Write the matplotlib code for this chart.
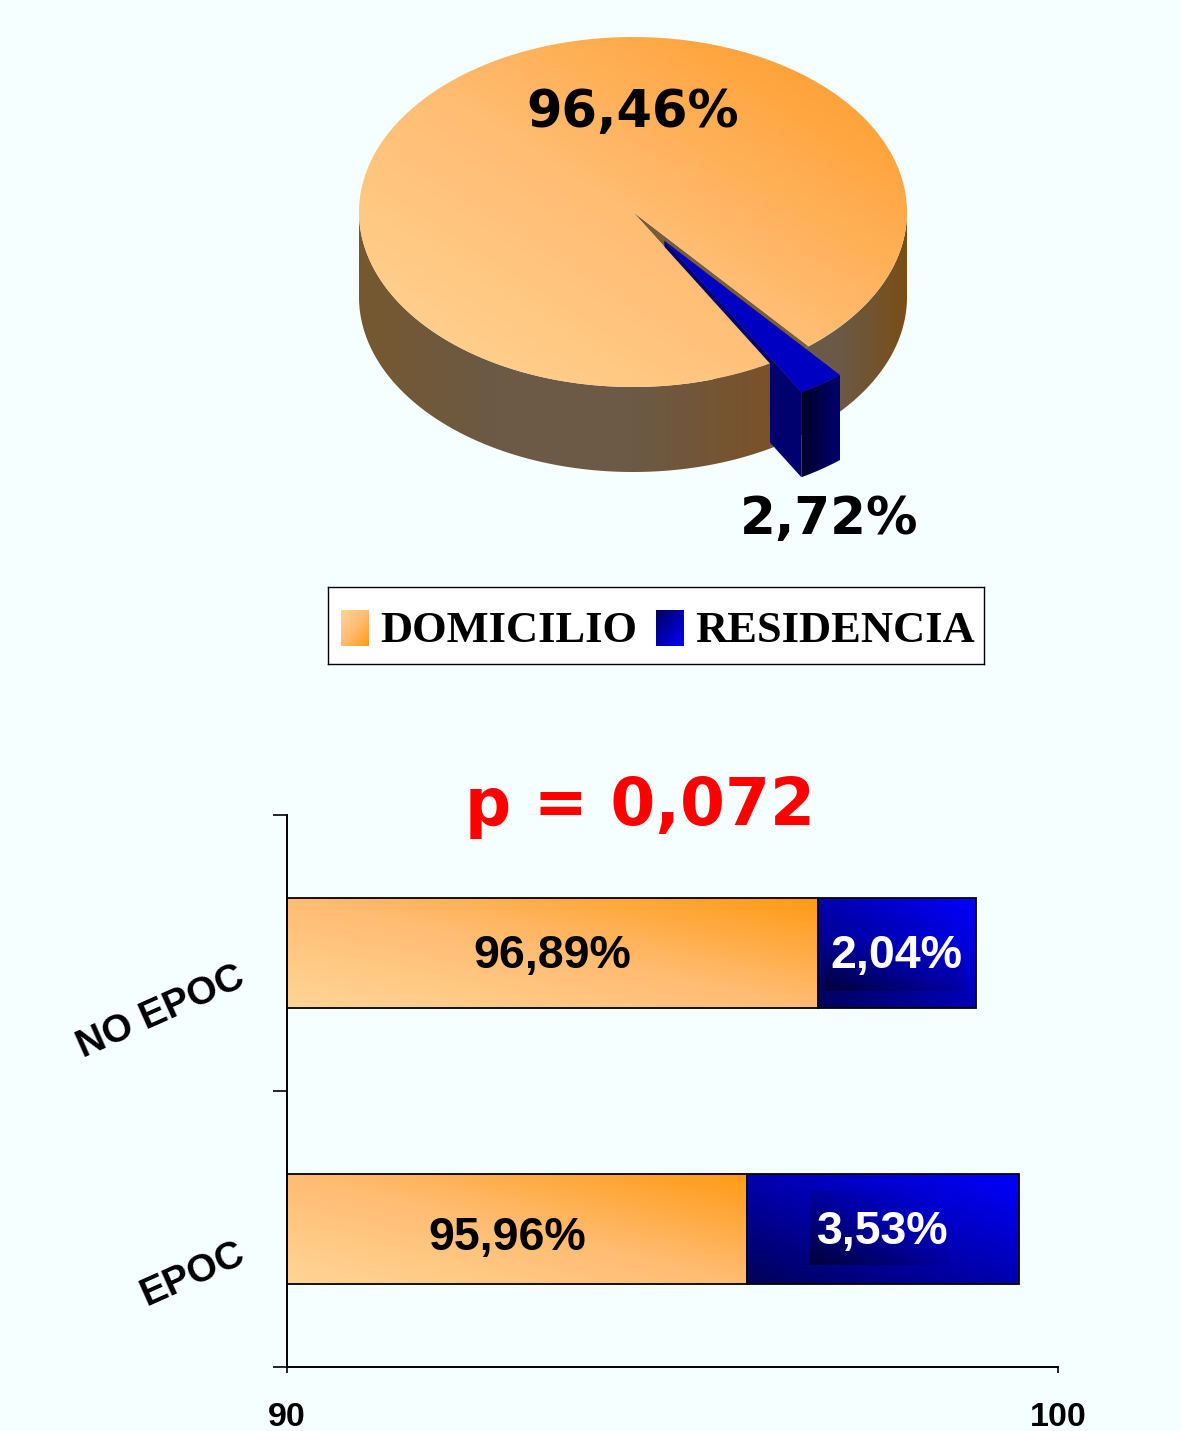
import numpy as np
import matplotlib
matplotlib.use('Agg')
import matplotlib.pyplot as plt
from matplotlib.colors import LinearSegmentedColormap
from matplotlib.patches import Polygon

# pie values
pie_names = ['DOMICILIO', 'RESIDENCIA']
pie_values = [96.46, 2.72]

# bar values
categories = ['EPOC', 'NO EPOC']
domicilio = [95.96, 96.89]
residencia = [3.53, 2.04]
x_ticks = [90, 100]

W, H = 1181, 1431
BG = '#F6FFFF'
SANS = 'Liberation Sans'

orange = LinearSegmentedColormap.from_list('orange', ['#FFD596', '#FFBC72', '#FF9A14'])
orange_pie = LinearSegmentedColormap.from_list('orange_pie', ['#FFD596', '#FFBC72', '#FF9822'])
blue = LinearSegmentedColormap.from_list('blue', ['#000058', '#0000B0', '#0000FF'])
blue_box = LinearSegmentedColormap.from_list('blue_box', ['#000038', '#0000A0', '#0000E8'])
wall_left = LinearSegmentedColormap.from_list('wall_left', ['#75582F', '#6C5A46', '#6C5A46', '#7A5228'])
wall_right = LinearSegmentedColormap.from_list('wall_right', ['#6A5A48', '#6A5A48', '#7A4E16'])
blue_side = LinearSegmentedColormap.from_list('blue_side', ['#000028', '#000070'])


def px_axes(left, top, right, bottom):
    ax = fig.add_axes([left / W, 1 - bottom / H, (right - left) / W, (bottom - top) / H])
    ax.patch.set_alpha(0)
    return ax


def gradient(ax, verts, cmap, mode='diag', zorder=1):
    """Fill a polygon with a gradient image clipped to it."""
    verts = np.asarray(verts)
    x0, y0 = verts.min(axis=0)
    x1, y1 = verts.max(axis=0)
    u, v = np.meshgrid(np.linspace(0, 1, 300), np.linspace(0, 1, 300))
    t = u if mode == 'x' else (u + v) / 2
    im = ax.imshow(t, cmap=cmap, vmin=0, vmax=1, origin='lower', aspect='auto',
                   extent=(x0, x1, y0, y1), zorder=zorder, interpolation='bilinear')
    poly = Polygon(verts, closed=True, transform=ax.transData)
    im.set_clip_path(poly)
    return im


def arc(a0, a1, cx=0.0, cy=0.0, dy=0.0):
    th = np.radians(np.linspace(a0, a1, 200))
    return np.column_stack([cx + np.cos(th), cy + np.sin(th) + dy])


def wall(a0, a1, depth, cx=0.0, cy=0.0):
    return np.vstack([arc(a0, a1, cx, cy), arc(a0, a1, cx, cy, -depth)[::-1]])


def pct(v):
    return f'{v:.2f}%'.replace('.', ',')


fig = plt.figure(figsize=(W / 100, H / 100), dpi=100, facecolor=BG)

# ---------- pie ----------
cx_px, cy_px, rx, ry = 633, 212, 274, 175
depth = 85 / ry
ax = px_axes(300, 0, 960, 560)
total = sum(pie_values)
sweep_dom = pie_values[0] / total * 360
sweep_res = pie_values[1] / total * 360
a_res0 = 300.0
a_res1 = a_res0 + sweep_res
a_dom1 = a_res0
a_dom0 = a_dom1 - sweep_dom
mid = np.radians((a_res0 + a_res1) / 2)
ex, ey = 0.2 * np.cos(mid), 0.2 * np.sin(mid)

# back part of the side wall and the slit left by the blue slice
gradient(ax, wall(a_res0, 360, depth), wall_right, 'x', zorder=1)
slit = np.vstack([[0, 0], arc(a_res0, a_res1)])
ax.add_patch(Polygon(slit, closed=True, fc='#7A5C38', ec='none', zorder=2))

# blue slice side facing the slit
p_tip = np.array([ex, ey])
p_rim = np.array([ex + np.cos(np.radians(a_res0)), ey + np.sin(np.radians(a_res0))])
face = [p_tip, p_rim, p_rim - [0, depth], p_tip - [0, depth]]
ax.add_patch(Polygon(face, closed=True, fc='#00006E', ec='none', zorder=3))

# front wall and top of the orange slice go over it
gradient(ax, wall(180, a_res0, depth), wall_left, 'x', zorder=4)
top = np.vstack([[0, 0], arc(a_dom0, a_dom1)])
gradient(ax, top, orange_pie, 'diag', zorder=5)

# blue slice top and outer face
res_top = np.vstack([p_tip, arc(a_res0, a_res1, ex, ey)])
ax.add_patch(Polygon(res_top, closed=True, fc='#0000C2', ec='none', zorder=6))
gradient(ax, wall(a_res0, a_res1, depth, ex, ey), blue_side, 'x', zorder=6)

ax.set_xlim((300 - cx_px) / rx, (960 - cx_px) / rx)
ax.set_ylim((cy_px - 560) / ry, cy_px / ry)
ax.axis('off')

fig.text(632.5 / W, 1 - 113 / H, pct(pie_values[0]), fontsize=36.8, fontweight='bold',
         ha='center', va='center', color='black')
fig.text(829.5 / W, 1 - 520 / H, pct(pie_values[1]), fontsize=37, fontweight='bold',
         ha='center', va='center', color='black')

# ---------- legend ----------
lg = px_axes(328, 587, 983.5, 664)
lg.patch.set_alpha(1)
lg.set_facecolor('white')
lg.set_xticks([])
lg.set_yticks([])
for s in lg.spines.values():
    s.set_linewidth(1.0)
gradient(lg, [(341, 610), (369, 610), (369, 646), (341, 646)], orange)
gradient(lg, [(656, 610), (684, 610), (684, 646), (656, 646)], blue)
lg.set_xlim(328, 983.5)
lg.set_ylim(664, 587)
lg.text(380, 631, pie_names[0], fontsize=32, fontweight='bold', family='Liberation Serif',
        ha='left', va='center', color='black')
lg.text(695, 631, pie_names[1], fontsize=32, fontweight='bold', family='Liberation Serif',
        ha='left', va='center', color='black')

# ---------- bars ----------
fig.text(640 / W, 1 - 807 / H, 'p = 0,072', fontsize=46.5, fontweight='bold',
         ha='center', va='center', color='#FF0000')

bx = px_axes(287, 815, 1058, 1367)
y_pos = np.arange(len(categories))
dom = np.array(domicilio)
res = np.array(residencia)
bar_h = 0.402
bars_dom = bx.barh(y_pos, dom, height=bar_h, fc='none', ec='black', lw=1.3, zorder=3)
bars_res = bx.barh(y_pos, res, left=dom, height=bar_h, fc='none', ec='black', lw=1.3, zorder=3)
for i, y in enumerate(y_pos):
    y0, y1 = y - bar_h / 2, y + bar_h / 2
    corners = [(90, y0), (dom[i], y0), (dom[i], y1), (90, y1)]
    gradient(bx, corners, orange, zorder=2)
    corners = [(dom[i], y0), (dom[i] + res[i], y0), (dom[i] + res[i], y1), (dom[i], y1)]
    gradient(bx, corners, blue, zorder=2)

# darker box that sits behind the white labels
box_spans = [(96.78, 98.6, -0.132, 0.139), (96.95, 98.76, 0.864, 1.08)]
for xa, xb, ya, yb in box_spans:
    gradient(bx, [(xa, ya), (xb, ya), (xb, yb), (xa, yb)], blue_box, zorder=2.5)

label_kw = dict(fontsize=33.5, fontweight='bold', family=SANS, ha='center', va='center', zorder=4)
dom_shift = [(-0.12, -0.02), (0, 0)]
for i, y in enumerate(y_pos):
    dx, dy = dom_shift[i]
    bx.text((90 + dom[i]) / 2 + dx, y + dy - 0.012, pct(dom[i]), color='black', **label_kw)
    bx.text(dom[i] + res[i] / 2, y - 0.012, pct(res[i]), color='white', **label_kw)

bx.set_xlim(x_ticks[0], x_ticks[-1])
bx.set_ylim(-0.5, 1.5)
bx.spines['top'].set_visible(False)
bx.spines['right'].set_visible(False)
bx.spines['left'].set_linewidth(1.4)
bx.spines['bottom'].set_linewidth(1.4)
bx.set_yticks([-0.5, 0.5, 1.5])
bx.set_yticklabels([])
bx.tick_params(axis='y', length=10, width=1.2)
bx.set_xticks(x_ticks)
bx.set_xticklabels([str(v) for v in x_ticks], fontsize=24.5, fontweight='bold', family=SANS)
bx.tick_params(axis='x', length=4, width=1.2, pad=21)
for cat, y in zip(categories, y_pos):
    bx.annotate(cat, (0, y), xycoords=('axes fraction', 'data'), xytext=(-44, -23),
                textcoords='offset pixels', rotation=24, rotation_mode='anchor',
                ha='right', va='center', fontsize=28, fontweight='bold', family=SANS,
                annotation_clip=False)

fig.savefig('out.png', dpi=100, facecolor=BG)
